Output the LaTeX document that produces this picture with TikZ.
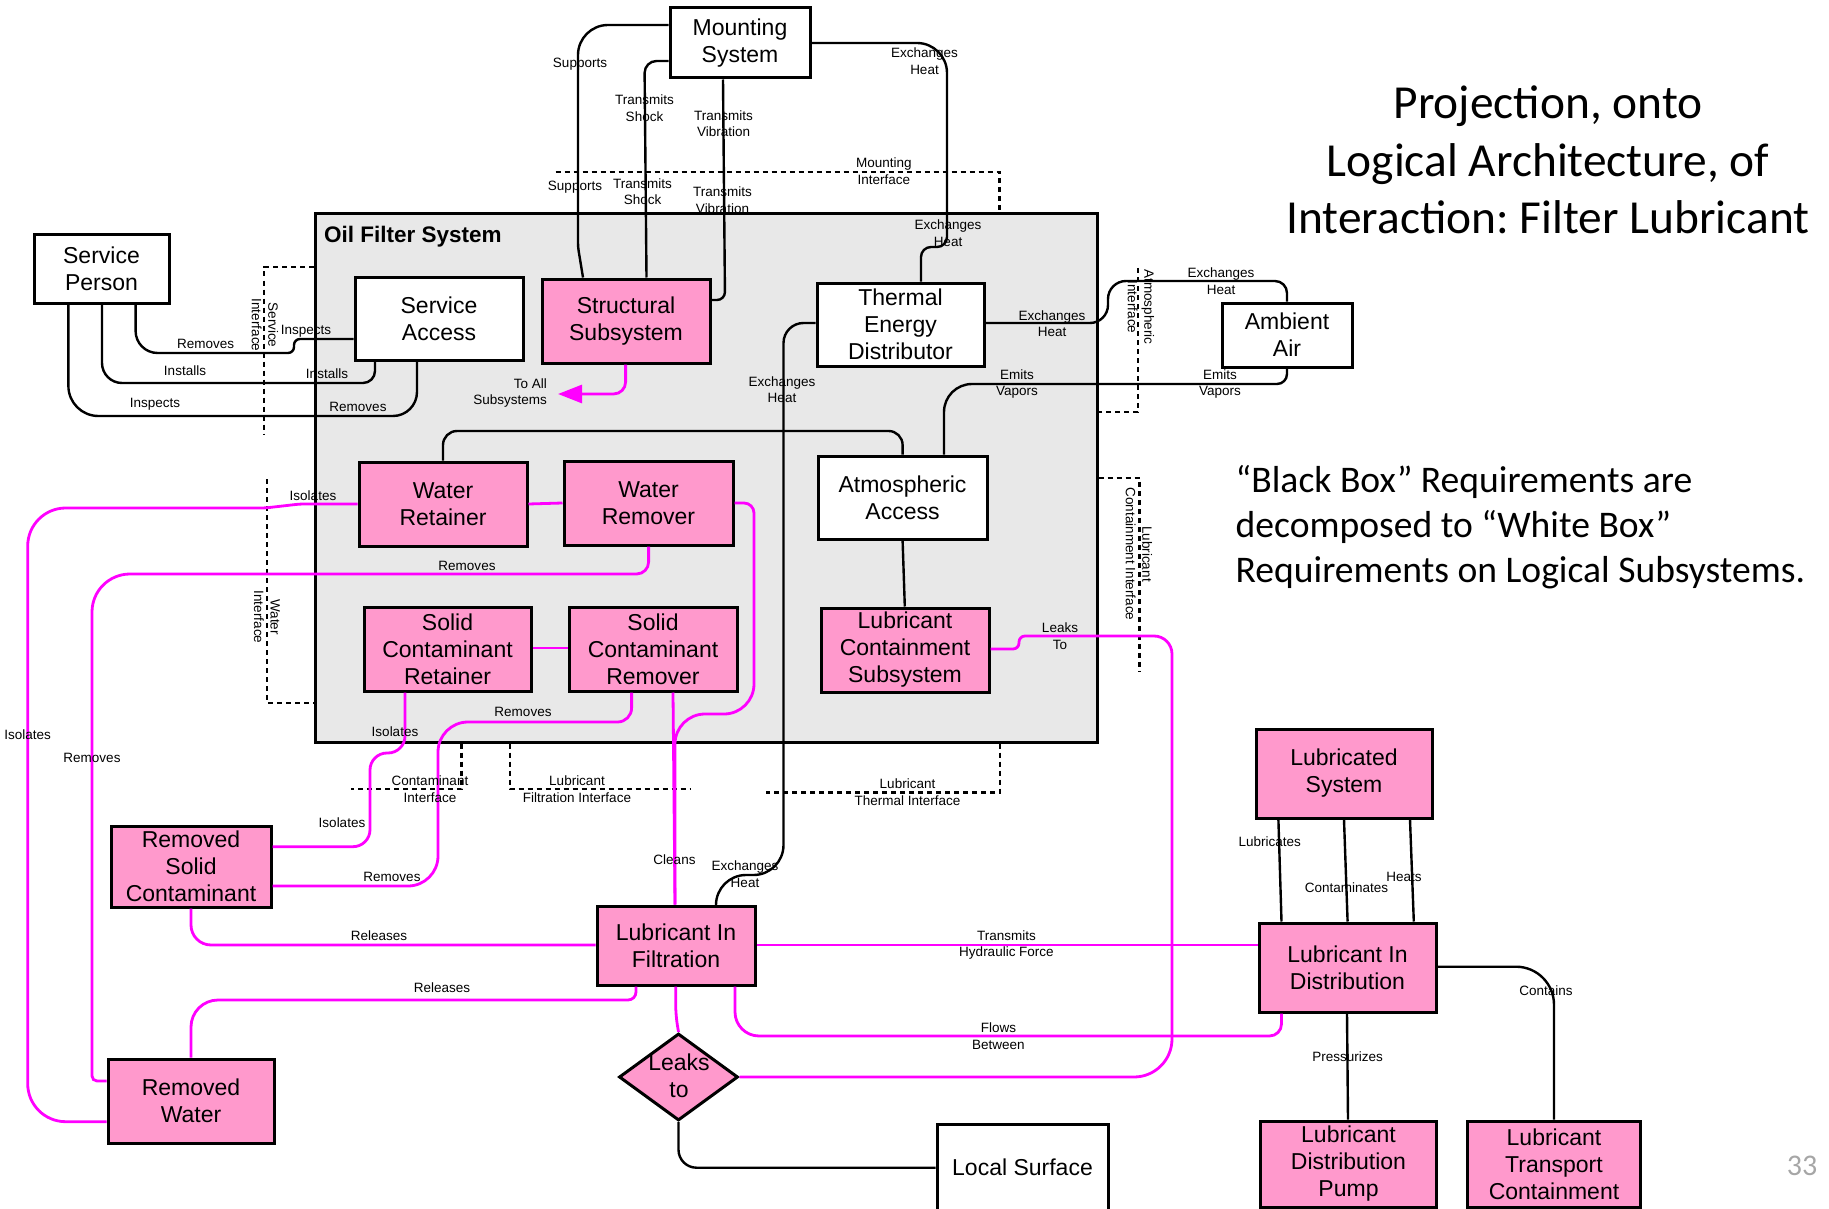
\documentclass[tikz,border=0pt]{standalone}
\usepackage{fontspec}
\setmainfont{Liberation Sans}
\newfontfamily\slidefont{Carlito}
\usetikzlibrary{shapes.geometric,arrows.meta}
\definecolor{boxpink}{HTML}{FF99CC}
\definecolor{linkmag}{HTML}{FF00FF}
\definecolor{oilgray}{HTML}{E8E8E8}
\definecolor{pagegray}{HTML}{A6A6A6}
\newcommand\boxfont{\fontsize{23}{27}\selectfont}
\newcommand\lblfont{\fontsize{13.5}{16.5}\selectfont}
\frenchspacing

\begin{document}
\begin{tikzpicture}[x=1pt,y=-1pt,
  box/.style={draw=black, line width=3pt, align=center, inner sep=0pt, font=\boxfont},
  wbox/.style={box, fill=white},
  pbox/.style={box, fill=boxpink},
  lbl/.style={font=\lblfont, align=center, inner sep=0pt},
  link/.style={draw=black, line width=2.4pt, rounded corners=#1},
  link/.default=16pt,
  mlink/.style={draw=linkmag, line width=2.8pt, rounded corners=#1},
  mlink/.default=16pt,
  iface/.style={draw=black, line width=2.7pt, dash pattern=on 5pt off 4pt},
]
\useasboundingbox (0,0) rectangle (1829,1209);

% ---------- enclosing subsystem boundary ----------
\node[draw=black, line width=3pt, fill=oilgray, minimum width=782, minimum height=528, inner sep=0pt] (oil) at (706,478) {};
\node[font=\fontsize{22.5}{26}\selectfont\bfseries, anchor=west, inner sep=0pt] (oiltitle) at (324,237) {Oil Filter System};

% ---------- boxes ----------
\node[wbox, minimum width=135, minimum height=68] (sp) at (101.5,269) {Service\\Person};
\node[wbox, minimum width=168, minimum height=83] (sa) at (439,318.5) {Service\\Access};
\node[wbox, minimum width=140, minimum height=70] (ms) at (740,43) {Mounting\\System};
\node[pbox, minimum width=168, minimum height=84] (ss) at (626,321) {Structural\\Subsystem};
\node[wbox, minimum width=167, minimum height=83] (ted) at (900.5,324.5) {Thermal\\Energy\\Distributor};
\node[wbox, minimum width=130, minimum height=64] (aa) at (1287,335) {Ambient\\Air};
\node[pbox, minimum width=168, minimum height=84] (wret) at (443,504) {Water\\Retainer};
\node[pbox, minimum width=169, minimum height=84] (wrem) at (648.5,503) {Water\\Remover};
\node[wbox, minimum width=169, minimum height=83] (atm) at (902.5,497.5) {Atmospheric\\Access};
\node[pbox, minimum width=167, minimum height=84] (scret) at (447.5,649) {Solid\\Contaminant\\Retainer};
\node[pbox, minimum width=168, minimum height=84] (screm) at (653,649) {Solid\\Contaminant\\Remover};
\node[pbox, minimum width=168, minimum height=84] (lcs) at (905,650) {Lubricant\\Containment\\Subsystem};
\node[pbox, minimum width=160, minimum height=81] (rsc) at (191,866.5) {Removed\\Solid\\Contaminant};
\node[pbox, minimum width=166, minimum height=84] (rw) at (191,1101) {Removed\\Water};
\node[pbox, minimum width=158, minimum height=79] (lif) at (676,945.5) {Lubricant In\\Filtration};
\node[draw=black, line width=3pt, fill=boxpink, shape=diamond, minimum width=119, minimum height=87, inner sep=0pt] (leaks) at (678.5,1077) {};
\node[font=\boxfont, align=center, inner sep=0pt] (leakstext) at (679,1075.5) {Leaks\\to};
\node[wbox, minimum width=171, minimum height=86] (ls) at (1022.5,1167) {Local Surface};
\node[pbox, minimum width=176, minimum height=89] (lubsys) at (1344,773.5) {Lubricated\\System};
\node[pbox, minimum width=177, minimum height=89] (lid) at (1347.5,967.5) {Lubricant In\\Distribution};
\node[pbox, minimum width=176, minimum height=86] (ldp) at (1348.5,1164) {Lubricant\\Distribution\\Pump};
\node[pbox, minimum width=173, minimum height=86] (ltc) at (1554,1164) {Lubricant\\Transport\\Containment};

% ---------- interface boundaries ----------
\draw[iface] (oil.west |- 0,267) -- (264,267) -- (264,435);
\draw[iface] (267,479) -- (267,703) -- (oil.west |- 0,703);
\draw[iface] (555.6,172) -- (999.6,172) -- (oil.north -| 999.6,0);
\draw[iface] (1138,268) -- (1138,412) -- (oil.east |- 0,412);
\draw[iface] (oil.east |- 0,478) -- (1139.6,478) -- (1139.6,671);
\draw[iface] (oil.south -| 461.5,0) -- (461.5,789) -- (351,789);
\draw[iface] (oil.south -| 510,0) -- (510,789) -- (691,789);
\draw[iface] (oil.south -| 1000,0) -- (1000,792.7) -- (765.5,792.7);

% ---------- black interactions ----------
\draw[link=22pt] (sp.south -| 135.6,0) -- (135.6,353) -- (200,353) [rounded corners=6pt] -- (294,353) -- (294,339) -- (sa.west |- 0,339);
\draw[link=20pt] (sp.south -| 102,0) -- (102,383) -- (250,383) [rounded corners=12pt] -- (375,383) -- (sa.south -| 375,0);
\draw[link=30pt] (sp.south -| 68.4,0) -- (68.4,416) -- (250,416) [rounded corners=24pt] -- (417,416) -- (sa.south -| 417,0);
\draw[link=30pt] (ms.west |- 0,25) -- (578,25) -- (578,200) [rounded corners=4pt] -- (578,247) -- (ss.north -| 583,0);
\draw[link=12pt] (ms.west |- 0,61) -- (644.5,61) -- (ss.north -| 646.5,0);
\draw[link=8pt] (ms.south -| 723,0) -- (725,300) -- (ss.east |- 0,300);
\draw[link=30pt] (ms.east |- 0,43) -- (947,43) -- (947,200) [rounded corners=10pt] -- (947,247) -- (921,247) -- (ted.north -| 921,0);
\draw[link=18pt] (ted.east |- 0,323) -- (1108,323) -- (1108,281) -- (1200,281) [rounded corners=12pt] -- (1287,281) -- (aa.north);
\draw[link=10pt] (aa.south) -- (1287,384) -- (1100,384) [rounded corners=28pt] -- (944,384) -- (atm.north -| 944,0);
\draw[link=20pt] (ted.west |- 0,323) -- (783.5,323) -- (783.5,600) [rounded corners=30pt] -- (783.5,875) -- (716,875) -- (lif.north -| 716,0);
\draw[link=14pt] (wret.north) -- (443,431) -- (902.6,431) -- (atm.north -| 902.6,0);
\draw[link] (atm.south -| 902.6,0) -- (lcs.north -| 904.8,0);
\draw[link=18pt] (leaks.south) -- (678.5,1167.7) -- (ls.west |- 0,1167.7);
\draw[link] (lubsys.south -| 1278.4,0) -- (lid.north -| 1281.5,0);
\draw[link] (lubsys.south -| 1344,0) -- (lid.north -| 1347.6,0);
\draw[link] (lubsys.south -| 1410,0) -- (lid.north -| 1413.8,0);
\draw[link] (lid.south -| 1347,0) -- (ldp.north -| 1348,0);
\draw[link=38pt] (lid.east |- 0,966.7) -- (1554,966.7) -- (ltc.north -| 1554,0);

% ---------- magenta interactions ----------
\coordinate (toall) at (558,394);
\draw[mlink=12pt, -{Triangle[length=24pt,width=18pt]}] (ss.south -| 625.6,0) -- (625.6,394) -- (toall);
\draw[mlink] (wret.east |- 0,504) -- (wrem.west |- 0,503);
\draw[mlink] (scret.east |- 0,648) -- (screm.west |- 0,648);
\draw[mlink=4pt] (wret.west |- 0,504) -- (300,504) -- (265,508) -- (150,508) [rounded corners=38pt] -- (27.7,508) -- (27.7,1121.7) -- (rw.west |- 0,1121.7);
\draw[mlink=12pt] (wrem.south -| 648.6,0) -- (648.6,574) -- (500,574) [rounded corners=38pt] -- (92,574) -- (92,900) [rounded corners=5pt] -- (92,1081) -- (rw.west |- 0,1081);
\draw[mlink=10pt] (wrem.east |- 0,503) -- (754,503) -- (754,600) [rounded corners=30pt] -- (754,714) -- (675,714) -- (lif.north -| 675,0);
\draw[mlink] (screm.south -| 673,0) -- (lif.north -| 675,0);
\draw[mlink=17pt] (scret.south -| 405,0) -- (405,753) -- (370,753) -- (370,846.7) -- (rsc.east |- 0,846.7);
\draw[mlink=14pt] (screm.south -| 631.6,0) -- (631.6,722) -- (550,722) [rounded corners=30pt] -- (438,722) -- (438,886) -- (rsc.east |- 0,886);
\draw[mlink=20pt] (rsc.south) -- (191,945) -- (lif.west |- 0,945);
\draw[mlink=8pt] (lif.south -| 636,0) -- (636,1000) -- (500,1000) [rounded corners=27pt] -- (191,1000) -- (rw.north);
\draw[mlink=10pt] (lif.south -| 675.7,0) -- (675.7,1015) -- (leaks.north);
\draw[mlink] (lif.east |- 0,945) -- (lid.west |- 0,945);
\draw[mlink=24pt] (lif.south -| 735,0) -- (735,1036) -- (1100,1036) [rounded corners=12pt] -- (1281.5,1036) -- (lid.south -| 1281.5,0);
\draw[mlink=6pt] (lcs.east |- 0,649) -- (1019,649) -- (1019,636) -- (1100,636) [rounded corners=18pt] -- (1172,636) -- (1172,800) [rounded corners=38pt] -- (1172,1077) -- (leaks.east);

% ---------- interaction labels ----------
\node[lbl] (l01) at (205.6,344) {Removes};
\node[lbl] (l02) at (306,331) {Inspects};
\node[lbl] (l03) at (185,371) {Installs};
\node[lbl] (l04) at (327,374) {Installs};
\node[lbl] (l05) at (155,404) {Inspects};
\node[lbl] (l06) at (358,407) {Removes};
\node[lbl, rotate=-90] (l07) at (265,325) {Service\\Interface};
\node[lbl, align=right, anchor=east] (l08) at (547,393) {To All\\Subsystems};
\node[lbl] (l09) at (580,64) {Supports};
\node[lbl] (l10) at (644.5,108) {Transmits\\Shock};
\node[lbl] (l11) at (723.6,123.5) {Transmits\\Vibration};
\node[lbl] (l12) at (924.5,61) {Exchanges\\Heat};
\node[lbl] (l13) at (575,187) {Supports};
\node[lbl] (l14) at (642.6,191.5) {Transmits\\Shock};
\node[lbl] (l15) at (722.5,200) {Transmits\\Vibration};
\node[lbl] (l16) at (883.8,171) {Mounting\\Interface};
\node[lbl] (l17) at (948,233) {Exchanges\\Heat};
\node[lbl] (l18) at (1052,323.5) {Exchanges\\Heat};
\node[lbl] (l19) at (1221,281) {Exchanges\\Heat};
\node[lbl, rotate=-90] (l20) at (1141,307) {Atmospheric\\Interface};
\node[lbl] (l21) at (1017,384) {Emits\\Vapors};
\node[lbl] (l22) at (1220,384) {Emits\\Vapors};
\node[lbl] (l23) at (782,389.5) {Exchanges\\Heat};
\node[lbl] (l24) at (313,495.7) {Isolates};
\node[lbl] (l25) at (467,566) {Removes};
\node[lbl, rotate=-90] (l26) at (267,617) {Water\\Interface};
\node[lbl, rotate=-90] (l27) at (1139,554) {Lubricant\\Containment Interface};
\node[lbl] (l28) at (1060,636) {Leaks\\To};
\node[lbl] (l29) at (523,712) {Removes};
\node[lbl] (l30) at (395,732) {Isolates};
\node[lbl] (l31) at (27.7,735) {Isolates};
\node[lbl] (l32) at (92,758) {Removes};
\node[lbl] (l33) at (430,789) {Contaminant\\Interface};
\node[lbl] (l34) at (577,789) {Lubricant\\Filtration Interface};
\node[lbl] (l35) at (907.5,792) {Lubricant\\Thermal Interface};
\node[lbl] (l36) at (342,823) {Isolates};
\node[lbl] (l37) at (392,877) {Removes};
\node[lbl] (l38) at (674.5,860) {Cleans};
\node[lbl] (l39) at (745,874) {Exchanges\\Heat};
\node[lbl] (l40) at (379,936) {Releases};
\node[lbl] (l41) at (442,988) {Releases};
\node[lbl] (l42) at (1006.5,945) {Transmits\\Hydraulic Force};
\node[lbl] (l43) at (998.4,1036) {Flows\\Between};
\node[lbl] (l44) at (1269.8,841.7) {Lubricates};
\node[lbl] (l45) at (1346.4,887.7) {Contaminates};
\node[lbl] (l46) at (1404,876.7) {Heats};
\node[lbl] (l47) at (1546,991) {Contains};
\node[lbl] (l48) at (1347.6,1057) {Pressurizes};

% ---------- slide text ----------
\node[font=\slidefont\fontsize{47.4}{57.5}\selectfont, align=center, inner sep=0pt] (title) at (1548,160) {Projection, onto\\Logical Architecture, of\\Interaction: Filter Lubricant};
\node[font=\slidefont\fontsize{37.6}{44.7}\selectfont, align=left, anchor=west, inner sep=0pt] (note) at (1235.5,527) {“Black Box” Requirements are\\decomposed to “White Box”\\Requirements on Logical Subsystems.};
\node[font=\slidefont\fontsize{30}{36}\selectfont, text=pagegray, inner sep=0pt] (pagenum) at (1802,1166) {33};
\end{tikzpicture}
\end{document}
